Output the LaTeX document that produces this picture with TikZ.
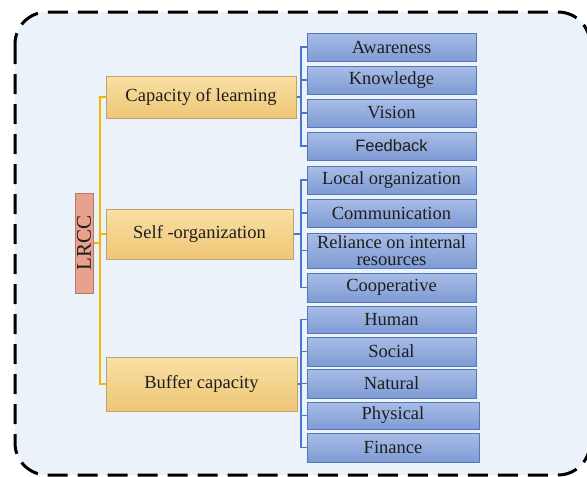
\documentclass[tikz,border=0pt]{standalone}
\usepackage{fontspec}
\setmainfont{Liberation Serif}
\newfontfamily\arialfont{Liberation Sans}
\definecolor{bgfill}{HTML}{EBF2F9}
\definecolor{bluetop}{HTML}{A8BDE6}
\definecolor{bluebot}{HTML}{7F9BD5}
\definecolor{blueedge}{HTML}{5677B8}
\definecolor{yeltop}{HTML}{F9E0A4}
\definecolor{yelbot}{HTML}{EEC676}
\definecolor{yeledge}{HTML}{BCA370}
\definecolor{lrccfill}{HTML}{E8A18E}
\definecolor{lrccedge}{HTML}{B47A68}
\definecolor{orangeline}{HTML}{F2B705}
\definecolor{blueline}{HTML}{4A78C6}
\definecolor{txt}{HTML}{1E1E1E}
\tikzset{
  childbox/.style={draw=blueedge, line width=1pt, top color=bluetop, bottom color=bluebot,
    minimum width=169pt, inner sep=0pt, text=txt, font=\fontsize{18.5}{17}\selectfont, align=center},
  parentbox/.style={draw=yeledge, line width=1pt, top color=yeltop, bottom color=yelbot,
    inner sep=0pt, text=txt, font=\fontsize{18.5}{17}\selectfont},
  rootbox/.style={draw=lrccedge, line width=1pt, fill=lrccfill, inner sep=0pt, text=txt},
  orangelink/.style={draw=orangeline, line width=1.8pt},
  bluelink/.style={draw=blueline, line width=1.8pt},
}
\begin{document}
\begin{tikzpicture}[x=1pt,y=-1pt]
\clip (0,0) rectangle (587,477);
\fill[white] (0,0) rectangle (587,477);
\draw[fill=bgfill, line width=3pt, dash pattern=on 20pt off 10pt, rounded corners=32pt]
  (15,12) rectangle (590,475);
% coordinates for spines
\coordinate (spine) at (100,0);
\coordinate (bx) at (301,0);
% root
\node[rootbox, minimum width=18pt, minimum height=100pt] (lrcc) at (84,243) {};
\node[rotate=90, text=txt, font=\fontsize{21}{21}\selectfont] (lrcct) at (lrcc.center) {LRCC};
% parents
\node[parentbox, minimum width=190pt, minimum height=42pt] (cap) at (201,97) {Capacity of learning};
\node[parentbox, minimum width=187pt, minimum height=50pt] (self) at (199.5,234) {Self -organization};
\node[parentbox, minimum width=191pt, minimum height=54pt] (buf) at (201.5,384) {Buffer capacity};
% children
\node[childbox, minimum height=28pt] (aw) at (391.5,47) {Awareness};
\node[childbox, minimum height=28pt] (kn) at (391.5,80) {Knowledge};
\node[childbox, minimum height=28pt] (vi) at (391.5,113) {Vision};
\node[childbox, minimum height=28pt, font=\arialfont\fontsize{16.5}{17}\selectfont] (fe) at (391.5,146) {Feedback};
\node[childbox, minimum height=28pt] (lo) at (391.5,180) {Local organization};
\node[childbox, minimum height=28pt] (co) at (391.5,213) {Communication};
\node[childbox, minimum height=35pt] (re) at (391.5,250.5) {Reliance on internal\\resources};
\node[childbox, minimum height=29pt] (cp) at (391.5,287.5) {Cooperative};
\node[childbox, minimum height=27pt] (hu) at (391.5,319.5) {Human};
\node[childbox, minimum height=29pt] (so) at (391.5,351.5) {Social};
\node[childbox, minimum height=29pt] (na) at (391.5,383.5) {Natural};
\node[childbox, minimum height=27pt, minimum width=172pt] (ph) at (393,415.5) {Physical};
\node[childbox, minimum height=29pt, minimum width=172pt] (fi) at (393,447.5) {Finance};
% orange connectors
\draw[orangelink] (cap.west) -- (cap.west -| spine) -- (buf.west -| spine) -- (buf.west);
\draw[orangelink] (self.west) -- (self.west -| spine);
\draw[orangelink] (lrcc.east) -- (lrcc.east -| spine);
% blue connectors: group 1
\draw[bluelink] (aw.west) -- (aw.west -| bx) -- (fe.west -| bx) -- (fe.west);
\draw[bluelink] (kn.west) -- (kn.west -| bx);
\draw[bluelink] (vi.west) -- (vi.west -| bx);
\draw[bluelink] (cap.east) -- (cap.east -| bx);
% group 2
\draw[bluelink] (lo.west) -- (lo.west -| bx) -- (cp.west -| bx) -- (cp.west);
\draw[bluelink] (co.west) -- (co.west -| bx);
\draw[bluelink] (re.west) -- (re.west -| bx);
\draw[bluelink] (self.east) -- (self.east -| bx);
% group 3
\draw[bluelink] (hu.west) -- (hu.west -| bx) -- (fi.west -| bx) -- (fi.west);
\draw[bluelink] (so.west) -- (so.west -| bx);
\draw[bluelink] (na.west) -- (na.west -| bx);
\draw[bluelink] (ph.west) -- (ph.west -| bx);
\draw[bluelink] (buf.east) -- (buf.east -| bx);
\end{tikzpicture}
\end{document}
